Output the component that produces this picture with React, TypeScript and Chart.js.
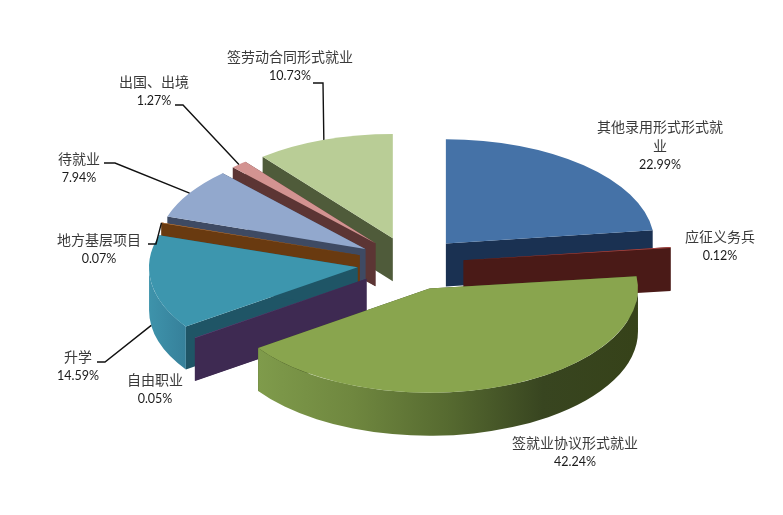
import { useEffect, useRef } from 'react'
import { Chart, registerables } from 'chart.js'

Chart.register(...registerables)

// 就业去向及占比
const categories = [
  '其他录用形式形式就业',
  '应征义务兵',
  '签就业协议形式就业',
  '自由职业',
  '升学',
  '地方基层项目',
  '待就业',
  '出国、出境',
  '签劳动合同形式就业',
]
const shares = [22.99, 0.12, 42.24, 0.05, 14.59, 0.07, 7.94, 1.27, 10.73]

// 颜色：顶面 / 切面 / 外弧面
const topColors = ['#4572a7', '#aa4643', '#89a54e', '#71588f', '#3d96ae', '#c98a55', '#92a8cd', '#d39391', '#b9cd96']
const wallColors = ['#1a3152', '#4a1a17', '#3a4720', '#3e2a52', '#1f5566', '#693a10', '#3e4a63', '#5c3534', '#4f5b3a']
const rimColors: (string[] | null)[] = [
  null, null, ['#7f9b4b', '#6f873f', '#566a30', '#384520', '#364219'], null, ['#3e93ab', '#36809a'], null, null, null, null,
]

// 标签中心位置，以及引线折点（没有引线的为 null）
const labelX = [660, 720, 575, 155, 78, 99, 79, 154, 290]
const labelY = [127, 237, 443, 380, 357, 240, 159, 82, 57]
const elbows: (number[][] | null)[] = [
  null, null, null, null,
  [[97, 362], [105, 362]],
  [[148, 244], [156, 244]],
  [[104, 163], [115, 163]],
  [[175, 105], [183, 105]],
  [[313, 83], [323, 83]],
]
const leaderDrop = [0, 0, 0, 0, 43, 0, 0, 0, 0]

const FLATTEN = 0.5
const EXPLODE = 53.5
const DEPTH = 43
const WRAP = 9

// 把每个扇形的位置算出来（压扁 + 分离）
const apexOf = (arc: any) => {
  const mid = (arc.startAngle + arc.endAngle) / 2
  return { x: arc.x + Math.cos(mid) * EXPLODE, y: arc.y + Math.sin(mid) * EXPLODE * FLATTEN, mid }
}

const pie3d = {
  id: 'pie3d',
  beforeDatasetsDraw(chart: any) {
    const ctx = chart.ctx
    const arcs = chart.getDatasetMeta(0).data
    const order = arcs.map((_: any, i: number) => i).sort((a: number, b: number) => apexOf(arcs[a]).y - apexOf(arcs[b]).y)

    order.forEach((i: number) => {
      const arc = arcs[i]
      const R = arc.outerRadius
      const { x, y } = apexOf(arc)

      // 两个切面
      ctx.fillStyle = wallColors[i]
      ;[arc.startAngle, arc.endAngle].forEach((a: number) => {
        const ex = x + Math.cos(a) * R
        const ey = y + Math.sin(a) * R * FLATTEN
        ctx.beginPath()
        ctx.moveTo(x, y)
        ctx.lineTo(ex, ey)
        ctx.lineTo(ex, ey + DEPTH)
        ctx.lineTo(x, y + DEPTH)
        ctx.closePath()
        ctx.fill()
      })

      // 前方外弧面
      const from = Math.max(arc.startAngle, 0)
      const to = Math.min(arc.endAngle, Math.PI)
      if (to > from && rimColors[i]) {
        const stops = rimColors[i] as string[]
        const x0 = x + Math.cos(to) * R
        const x1 = x + (from <= 0 ? R : Math.cos(from) * R)
        const grad = ctx.createLinearGradient(Math.min(x0, x1), 0, Math.max(x0, x1), 0)
        stops.forEach((c, k) => grad.addColorStop(k / (stops.length - 1), c))
        ctx.fillStyle = grad
        ctx.beginPath()
        ctx.ellipse(x, y, R, R * FLATTEN, 0, from, to)
        ctx.ellipse(x, y + DEPTH, R, R * FLATTEN, 0, to, from, true)
        ctx.closePath()
        ctx.fill()
      }

      // 顶面
      ctx.save()
      ctx.translate(x, y)
      ctx.scale(1, FLATTEN)
      ctx.translate(-arc.x, -arc.y)
      arc.draw(ctx)
      ctx.restore()
    })
    return false
  },
  afterDraw(chart: any) {
    const ctx = chart.ctx
    const arcs = chart.getDatasetMeta(0).data
    ctx.save()

    // 引线
    ctx.strokeStyle = '#111'
    ctx.lineWidth = 1.4
    elbows.forEach((pts, i) => {
      if (!pts) return
      const { x, y, mid } = apexOf(arcs[i])
      const R = arcs[i].outerRadius
      ctx.beginPath()
      ctx.moveTo(pts[0][0], pts[0][1])
      ctx.lineTo(pts[1][0], pts[1][1])
      ctx.lineTo(x + Math.cos(mid) * R, y + Math.sin(mid) * R * FLATTEN + leaderDrop[i])
      ctx.stroke()
    })

    // 标签
    ctx.textAlign = 'center'
    ctx.textBaseline = 'middle'
    categories.forEach((name, i) => {
      let ty = labelY[i]
      ctx.font = '14px "Noto Sans CJK SC"'
      ctx.fillStyle = '#3a3a3a'
      for (let p = 0; p < name.length; p += WRAP) {
        ctx.fillText(name.slice(p, p + WRAP), labelX[i], ty)
        ty += name.length > WRAP ? 19 : 18.5
      }
      ctx.font = '12.5px Lato'
      ctx.fillStyle = '#1a1a1a'
      ctx.fillText(shares[i].toFixed(2) + '%', labelX[i], ty)
    })
    ctx.restore()
  },
}

export default function App() {
  const chartRef = useRef<HTMLCanvasElement>(null)

  useEffect(() => {
    if (!chartRef.current) return
    document.body.style.margin = '0'
    const chart = new Chart(chartRef.current, {
      type: 'pie',
      data: {
        labels: categories,
        datasets: [{ data: shares, backgroundColor: topColors, borderWidth: 0 }],
      },
      options: {
        responsive: false,
        animation: false,
        events: [],
        layout: { padding: { top: 55, bottom: 43, left: 38, right: 0 } },
        plugins: { legend: { display: false }, tooltip: { enabled: false } },
      },
      plugins: [pie3d],
    } as any)
    return () => chart.destroy()
  }, [])

  return (
    <div style={{ width: 783, height: 515, background: '#fff' }}>
      <canvas ref={chartRef} width={783} height={515} style={{ display: 'block' }}></canvas>
    </div>
  )
}
